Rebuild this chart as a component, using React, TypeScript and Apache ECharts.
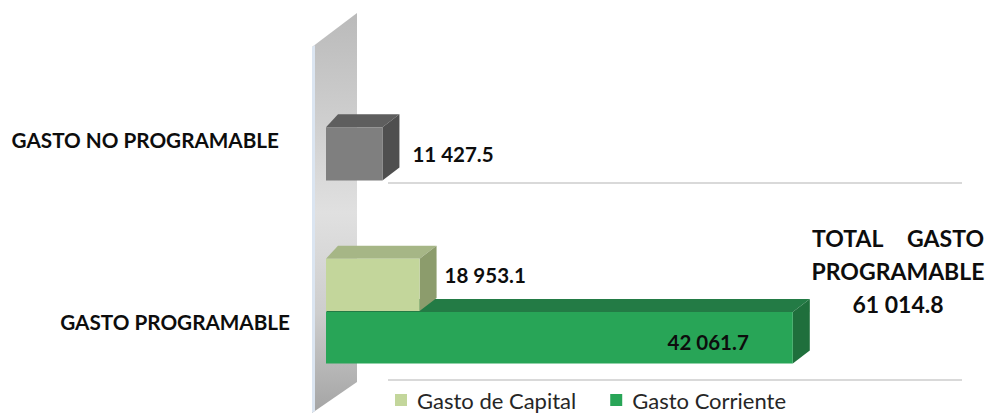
import React, { useEffect, useRef } from 'react';
import * as echarts from 'echarts';

// ---- data ----
const categories = ['GASTO NO PROGRAMABLE', 'GASTO PROGRAMABLE'];
const gastoNoProgramable: (number | null)[] = [11427.5, null];
const gastoCapital: (number | null)[] = [null, 18953.1];
const gastoCorriente: (number | null)[] = [null, 42061.7];
const legendNames = ['Gasto de Capital', 'Gasto Corriente'];
const totalWords = ['TOTAL', 'GASTO', 'PROGRAMABLE'];

function fmt(v: number) {
  const [i, d] = v.toFixed(1).split('.');
  return i.replace(/\B(?=(\d{3})+(?!\d))/g, ' ') + '.' + d;
}

function toData(arr: (number | null)[]) {
  const out: number[][] = [];
  arr.forEach((v, i) => {
    if (v != null) out.push([v, i]);
  });
  return out;
}

const FONT = 'Lato, "Open Sans", sans-serif';

type Cfg = {
  top: number;
  bottom: number;
  color: string;
  topColor: string;
  sideColor: string;
  labelMode: 'right' | 'inside';
  labelDx: number;
  labelDy: number;
};

function make3D(cfg: Cfg) {
  return (params: any, api: any) => {
    const v = api.value(0);
    const c = api.value(1);
    const p0 = api.coord([0, c]);
    const p1 = api.coord([v, c]);
    const band = api.size([0, 1])[1];
    const k = band / 184;
    const x = p0[0];
    const w = p1[0] - p0[0];
    const y = p0[1] + cfg.top * k;
    const h = (cfg.bottom - cfg.top) * k;
    const dx = 17;
    const dxl = 12;
    const dy = -13;
    const labelX = cfg.labelMode === 'right' ? x + w + cfg.labelDx : x + w - cfg.labelDx;
    return {
      type: 'group',
      children: [
        {
          type: 'polygon',
          shape: { points: [[x, y], [x + dxl, y + dy], [x + w + dx, y + dy], [x + w, y]] },
          style: { fill: cfg.topColor },
        },
        {
          type: 'polygon',
          shape: { points: [[x + w, y], [x + w + dx, y + dy], [x + w + dx, y + h + dy], [x + w, y + h]] },
          style: { fill: cfg.sideColor },
        },
        {
          type: 'rect',
          shape: { x, y, width: w, height: h },
          style: { fill: cfg.color },
        },
        {
          type: 'text',
          x: labelX,
          y: p0[1] + cfg.labelDy,
          style: {
            text: fmt(v),
            fill: '#0d0d0d',
            fontFamily: FONT,
            fontWeight: 'bold',
            fontSize: 20.5,
            textAlign: cfg.labelMode === 'right' ? 'left' : 'right',
            textVerticalAlign: 'middle',
          },
        },
      ],
    };
  };
}

export default function App() {
  const ref = useRef<HTMLDivElement>(null);
  useEffect(() => {
    if (!ref.current) return;
    const chart = echarts.init(ref.current, undefined, { renderer: 'svg' });
    const total = [...gastoCapital, ...gastoCorriente].reduce(
      (s: number, v) => s + (v == null ? 0 : v),
      0
    );
    const wallGrad = new echarts.graphic.LinearGradient(0, 0, 0, 1, [
      { offset: 0, color: '#bababa' },
      { offset: 0.5, color: '#e0e0e0' },
      { offset: 0.75, color: '#cdcdcd' },
      { offset: 1, color: '#a4a4a4' },
    ]);
    const option: any = {
      animation: false,
      backgroundColor: '#ffffff',
      grid: { left: 326, top: 49, width: 637, height: 368 },
      xAxis: [
        { type: 'value', min: 0, max: 129000, show: false },
        { type: 'value', min: 0, max: 57400, show: false },
      ],
      yAxis: {
        type: 'category',
        data: categories,
        inverse: true,
        axisLine: { show: false },
        axisTick: { show: false },
        splitLine: { show: false },
        axisLabel: {
          margin: 36,
          formatter: (val: string, idx: number) => (idx === 0 ? '{a|' + val + '}' : '{b|' + val + '}'),
          rich: {
            a: {
              fontFamily: FONT,
              fontWeight: 'bold',
              fontSize: 20.7,
              color: '#0d0d0d',
              padding: [0, 11, 0, 0],
            },
            b: {
              fontFamily: FONT,
              fontWeight: 'bold',
              fontSize: 20.7,
              color: '#0d0d0d',
              padding: [0, 0, 0, 0],
            },
          },
        },
      },
      legend: {
        data: legendNames,
        left: 390,
        top: 384,
        icon: 'rect',
        itemWidth: 12,
        itemHeight: 12,
        itemGap: 34,
        textStyle: {
          fontFamily: FONT,
          fontSize: 22,
          color: '#262626',
          padding: [0, 0, 0, 5],
        },
      },
      graphic: [
        {
          type: 'polygon',
          z: 0,
          shape: { points: [[312, 47], [357, 13], [357, 382], [312, 413]] },
          style: { fill: wallGrad },
        },
        {
          type: 'polygon',
          z: 0,
          shape: { points: [[312, 47], [315, 45], [315, 411], [312, 413]] },
          style: { fill: '#dbe5f1' },
        },
        {
          type: 'line',
          z: 0,
          shape: { x1: 388, y1: 183, x2: 962, y2: 183 },
          style: { stroke: '#d9d9d9', lineWidth: 2 },
        },
        {
          type: 'line',
          z: 0,
          shape: { x1: 388, y1: 380, x2: 962, y2: 380 },
          style: { stroke: '#d9d9d9', lineWidth: 2 },
        },
        {
          type: 'text',
          x: 812,
          y: 238,
          style: {
            text: totalWords[0],
            fontFamily: FONT,
            fontWeight: 'bold',
            fontSize: 23,
            fill: '#0d0d0d',
            textAlign: 'left',
            textVerticalAlign: 'middle',
          },
        },
        {
          type: 'text',
          x: 984,
          y: 238,
          style: {
            text: totalWords[1],
            fontFamily: FONT,
            fontWeight: 'bold',
            fontSize: 23,
            fill: '#0d0d0d',
            textAlign: 'right',
            textVerticalAlign: 'middle',
          },
        },
        {
          type: 'text',
          x: 898,
          y: 271,
          style: {
            text: totalWords[2],
            fontFamily: FONT,
            fontWeight: 'bold',
            fontSize: 23,
            fill: '#0d0d0d',
            textAlign: 'center',
            textVerticalAlign: 'middle',
          },
        },
        {
          type: 'text',
          x: 898,
          y: 304,
          style: {
            text: fmt(total),
            fontFamily: FONT,
            fontWeight: 'bold',
            fontSize: 23,
            fill: '#0d0d0d',
            textAlign: 'center',
            textVerticalAlign: 'middle',
          },
        },
      ],
      series: [
        {
          name: 'Gasto No Programable',
          type: 'custom',
          xAxisIndex: 0,
          encode: { x: 0, y: 1 },
          itemStyle: { color: '#7f7f7f' },
          renderItem: make3D({
            top: -13,
            bottom: 41,
            color: '#7f7f7f',
            topColor: '#5e5e5e',
            sideColor: '#4f4f4f',
            labelMode: 'right',
            labelDx: 30,
            labelDy: 14,
          }),
          data: toData(gastoNoProgramable),
        },
        {
          name: legendNames[1],
          type: 'custom',
          xAxisIndex: 1,
          encode: { x: 0, y: 1 },
          itemStyle: { color: '#28a557' },
          renderItem: make3D({
            top: -10,
            bottom: 42,
            color: '#28a557',
            topColor: '#237b45',
            sideColor: '#1f6f3c',
            labelMode: 'inside',
            labelDx: 44,
            labelDy: 20,
          }),
          data: toData(gastoCorriente),
        },
        {
          name: legendNames[0],
          type: 'custom',
          xAxisIndex: 0,
          encode: { x: 0, y: 1 },
          itemStyle: { color: '#c3d69b' },
          renderItem: make3D({
            top: -64,
            bottom: -11,
            color: '#c3d69b',
            topColor: '#a6b686',
            sideColor: '#8c9c6c',
            labelMode: 'right',
            labelDx: 25,
            labelDy: -47,
          }),
          data: toData(gastoCapital),
        },
      ],
    };
    chart.setOption(option);
    return () => chart.dispose();
  }, []);
  return (
    <div
      ref={ref}
      style={{ position: 'absolute', left: 0, top: 0, width: 988, height: 413 }}
    />
  );
}
